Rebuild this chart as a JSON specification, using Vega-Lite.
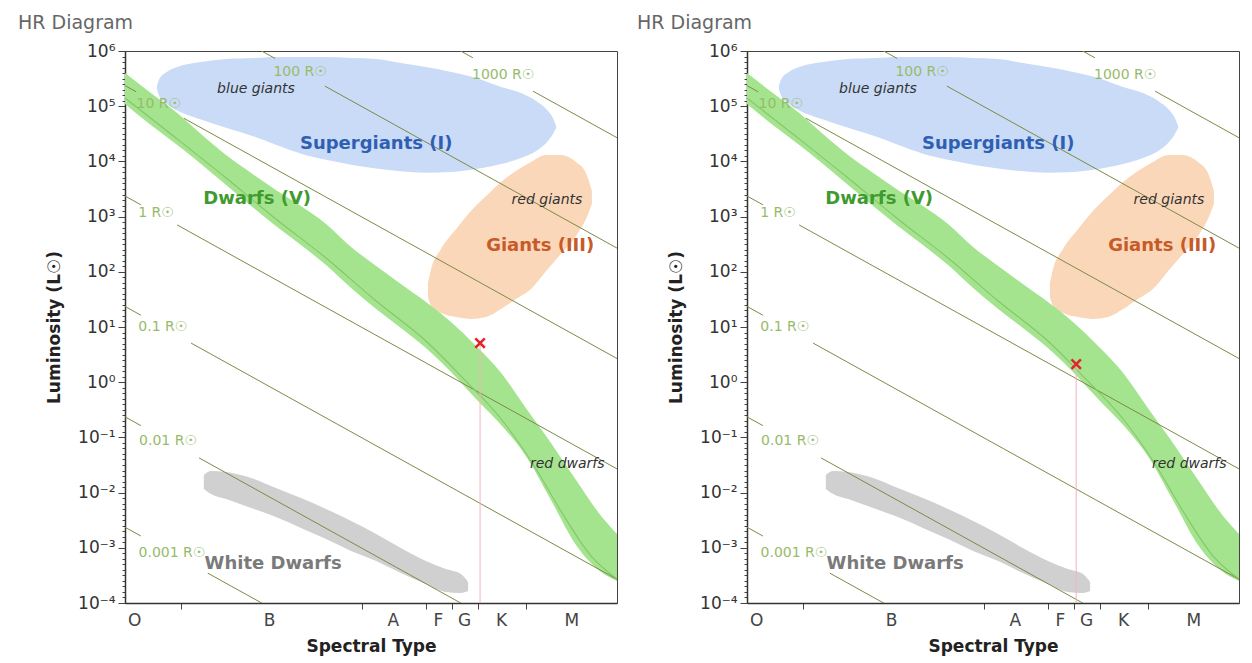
{
  "$schema": "https://vega.github.io/schema/vega-lite/v6.json",
  "background": "white",
  "padding": {"left": 17, "top": 13, "right": 5, "bottom": 5},
  "spacing": 16,
  "config": {
    "font": "DejaVu Sans",
    "view": {"stroke": "#444", "strokeWidth": 1},
    "title": {"fontSize": 19, "fontWeight": "normal", "color": "#666", "font": "DejaVu Sans", "anchor": "start", "frame": "group", "offset": 9}
  },
  "datasets": {
    "ms": [
      {"logT": 4.605, "logL": 5.601, "logL2": 5.040},
      {"logT": 4.540, "logL": 5.239, "logL2": 4.659},
      {"logT": 4.477, "logL": 4.895, "logL2": 4.315},
      {"logT": 4.414, "logL": 4.496, "logL2": 3.953},
      {"logT": 4.351, "logL": 4.116, "logL2": 3.572},
      {"logT": 4.288, "logL": 3.790, "logL2": 3.192},
      {"logT": 4.226, "logL": 3.482, "logL2": 2.830},
      {"logT": 4.163, "logL": 3.192, "logL2": 2.486},
      {"logT": 4.100, "logL": 2.866, "logL2": 2.123},
      {"logT": 4.037, "logL": 2.449, "logL2": 1.706},
      {"logT": 3.974, "logL": 2.106, "logL2": 1.326},
      {"logT": 3.912, "logL": 1.779, "logL2": 0.982},
      {"logT": 3.849, "logL": 1.453, "logL2": 0.620},
      {"logT": 3.786, "logL": 1.091, "logL2": 0.185},
      {"logT": 3.723, "logL": 0.656, "logL2": -0.304},
      {"logT": 3.660, "logL": 0.167, "logL2": -0.775},
      {"logT": 3.598, "logL": -0.467, "logL2": -1.337},
      {"logT": 3.535, "logL": -1.101, "logL2": -2.134},
      {"logT": 3.472, "logL": -1.772, "logL2": -2.949},
      {"logT": 3.409, "logL": -2.424, "logL2": -3.438},
      {"logT": 3.369, "logL": -2.750, "logL2": -3.601}
    ],
    "zams": [
      {"logT": 4.605, "logL": 5.149},
      {"logT": 4.477, "logL": 4.424},
      {"logT": 4.351, "logL": 3.699},
      {"logT": 4.226, "logL": 2.957},
      {"logT": 4.100, "logL": 2.250},
      {"logT": 3.974, "logL": 1.471},
      {"logT": 3.849, "logL": 0.746},
      {"logT": 3.761, "logL": 0.112},
      {"logT": 3.660, "logL": -0.667},
      {"logT": 3.577, "logL": -1.518},
      {"logT": 3.510, "logL": -2.333},
      {"logT": 3.434, "logL": -3.149},
      {"logT": 3.369, "logL": -3.565}
    ],
    "sg": [
      {"logT": 4.525, "logL": 5.366, "logL2": 5.312},
      {"logT": 4.518, "logL": 5.500, "logL2": 5.170},
      {"logT": 4.500, "logL": 5.620, "logL2": 5.040},
      {"logT": 4.470, "logL": 5.720, "logL2": 4.910},
      {"logT": 4.414, "logL": 5.801, "logL2": 4.760},
      {"logT": 4.351, "logL": 5.855, "logL2": 4.610},
      {"logT": 4.281, "logL": 5.873, "logL2": 4.450},
      {"logT": 4.226, "logL": 5.891, "logL2": 4.300},
      {"logT": 4.163, "logL": 5.891, "logL2": 4.140},
      {"logT": 4.100, "logL": 5.891, "logL2": 4.030},
      {"logT": 4.037, "logL": 5.873, "logL2": 3.940},
      {"logT": 3.974, "logL": 5.855, "logL2": 3.870},
      {"logT": 3.912, "logL": 5.783, "logL2": 3.820},
      {"logT": 3.849, "logL": 5.710, "logL2": 3.795},
      {"logT": 3.786, "logL": 5.620, "logL2": 3.808},
      {"logT": 3.723, "logL": 5.511, "logL2": 3.862},
      {"logT": 3.660, "logL": 5.348, "logL2": 3.953},
      {"logT": 3.610, "logL": 5.239, "logL2": 4.062},
      {"logT": 3.572, "logL": 5.094, "logL2": 4.188},
      {"logT": 3.547, "logL": 4.949, "logL2": 4.333},
      {"logT": 3.530, "logL": 4.786, "logL2": 4.496},
      {"logT": 3.522, "logL": 4.641, "logL2": 4.605}
    ],
    "gi": [
      {"logT": 3.844, "logL": 1.797, "logL2": 1.543},
      {"logT": 3.836, "logL": 2.051, "logL2": 1.380},
      {"logT": 3.811, "logL": 2.413, "logL2": 1.254},
      {"logT": 3.773, "logL": 2.775, "logL2": 1.181},
      {"logT": 3.736, "logL": 3.101, "logL2": 1.145},
      {"logT": 3.698, "logL": 3.373, "logL2": 1.181},
      {"logT": 3.660, "logL": 3.627, "logL2": 1.326},
      {"logT": 3.623, "logL": 3.826, "logL2": 1.507},
      {"logT": 3.585, "logL": 3.989, "logL2": 1.688},
      {"logT": 3.547, "logL": 4.116, "logL2": 2.014},
      {"logT": 3.510, "logL": 4.116, "logL2": 2.322},
      {"logT": 3.472, "logL": 3.989, "logL2": 2.649},
      {"logT": 3.447, "logL": 3.790, "logL2": 2.957},
      {"logT": 3.432, "logL": 3.464, "logL2": 3.228}
    ],
    "wd": [
      {"logT": 4.407, "logL": -1.681, "logL2": -1.935},
      {"logT": 4.389, "logL": -1.609, "logL2": -2.025},
      {"logT": 4.351, "logL": -1.627, "logL2": -2.116},
      {"logT": 4.288, "logL": -1.736, "logL2": -2.279},
      {"logT": 4.226, "logL": -1.917, "logL2": -2.442},
      {"logT": 4.163, "logL": -2.098, "logL2": -2.641},
      {"logT": 4.100, "logL": -2.297, "logL2": -2.841},
      {"logT": 4.037, "logL": -2.514, "logL2": -3.058},
      {"logT": 3.974, "logL": -2.750, "logL2": -3.239},
      {"logT": 3.912, "logL": -3.004, "logL2": -3.457},
      {"logT": 3.849, "logL": -3.239, "logL2": -3.656},
      {"logT": 3.799, "logL": -3.384, "logL2": -3.801},
      {"logT": 3.761, "logL": -3.475, "logL2": -3.819},
      {"logT": 3.743, "logL": -3.620, "logL2": -3.783}
    ],
    "rlines": [
      {"id": "1000a", "logT": 4.605, "logL": 9.373}, {"id": "1000a", "logT": 3.731, "logL": 5.877},
      {"id": "1000b", "logT": 3.580, "logL": 5.273}, {"id": "1000b", "logT": 3.369, "logL": 4.429},
      {"id": "100a", "logT": 4.605, "logL": 7.373}, {"id": "100a", "logT": 4.228, "logL": 5.865},
      {"id": "100b", "logT": 4.103, "logL": 5.365}, {"id": "100b", "logT": 3.369, "logL": 2.429},
      {"id": "10a", "logT": 4.605, "logL": 5.373}, {"id": "10a", "logT": 4.577, "logL": 5.261},
      {"id": "10b", "logT": 4.457, "logL": 4.781}, {"id": "10b", "logT": 3.369, "logL": 0.429},
      {"id": "1a", "logT": 4.605, "logL": 3.373}, {"id": "1a", "logT": 4.565, "logL": 3.213},
      {"id": "1b", "logT": 4.474, "logL": 2.849}, {"id": "1b", "logT": 3.369, "logL": -1.571},
      {"id": "0.1a", "logT": 4.605, "logL": 1.373}, {"id": "0.1a", "logT": 4.565, "logL": 1.213},
      {"id": "0.1b", "logT": 4.439, "logL": 0.709}, {"id": "0.1b", "logT": 3.369, "logL": -3.571},
      {"id": "0.01a", "logT": 4.605, "logL": -0.627}, {"id": "0.01a", "logT": 4.565, "logL": -0.787},
      {"id": "0.01b", "logT": 4.419, "logL": -1.371}, {"id": "0.01b", "logT": 3.369, "logL": -5.571},
      {"id": "0.001a", "logT": 4.605, "logL": -2.627}, {"id": "0.001a", "logT": 4.565, "logL": -2.787},
      {"id": "0.001b", "logT": 4.397, "logL": -3.459}, {"id": "0.001b", "logT": 3.369, "logL": -7.571}
    ],
    "rlabels": [
      {"name": "10 R☉", "logT": 4.520, "logL": 5.033},
      {"name": "1 R☉", "logT": 4.527, "logL": 3.061},
      {"name": "0.1 R☉", "logT": 4.510, "logL": 0.993},
      {"name": "0.01 R☉", "logT": 4.497, "logL": -1.059},
      {"name": "0.001 R☉", "logT": 4.487, "logL": -3.099},
      {"name": "100 R☉", "logT": 4.165, "logL": 5.613},
      {"name": "1000 R☉", "logT": 3.655, "logL": 5.573}
    ],
    "types": [
      {"name": "blue giants", "logT": 4.276, "logL": 5.312},
      {"name": "red giants", "logT": 3.545, "logL": 3.301},
      {"name": "red dwarfs", "logT": 3.494, "logL": -1.482}
    ],
    "classes": [
      {"name": "Supergiants (I)", "logT": 3.974, "logL": 4.315},
      {"name": "Giants (III)", "logT": 3.562, "logL": 2.467},
      {"name": "Dwarfs (V)", "logT": 4.273, "logL": 3.319},
      {"name": "White Dwarfs", "logT": 4.233, "logL": -3.293}
    ],
    "star": [
      {"panel": "A", "logT": 3.713, "logL": 0.710},
      {"panel": "B", "logT": 3.778, "logL": 0.327}
    ]
  },
  "hconcat": [
    {
      "width": 492,
      "height": 552,
      "title": {"text": "HR Diagram", "dx": -107},
      "encoding": {
        "x": {"field": "logT", "type": "quantitative",
          "scale": {"domain": [3.369, 4.605], "reverse": true, "nice": false, "zero": false},
          "axis": {"title": "Spectral Type", "grid": false, "labelFlush": false, "labelOverlap": false,
            "values": [4.582, 4.464, 4.243, 4.010, 3.932, 3.849, 3.819, 3.783, 3.753, 3.718, 3.66, 3.598, 3.484],
            "labelExpr": "datum.value == 4.582 ? 'O' : datum.value == 4.243 ? 'B' : datum.value == 3.932 ? 'A' : datum.value == 3.819 ? 'F' : datum.value == 3.753 ? 'G' : datum.value == 3.66 ? 'K' : datum.value == 3.484 ? 'M' : ''",
            "tickOpacity": {"condition": {"test": "indexof([4.464, 4.01, 3.849, 3.783, 3.718, 3.598], datum.value) >= 0", "value": 1}, "value": 0},
            "tickSize": 6, "tickColor": "#444", "domainColor": "#333", "domainWidth": 1.5,
            "labelFontSize": 17, "labelColor": "#444", "labelPadding": 3,
            "titleFontSize": 17, "titleFontWeight": "bold", "titleColor": "#222", "titlePadding": 10}
        },
        "y": {"field": "logL", "type": "quantitative",
          "scale": {"domain": [-4, 6], "nice": false, "zero": false},
          "axis": {"title": "Luminosity (L☉)", "grid": false, "labelFlush": false, "labelOverlap": false,
            "values": [-4,-3.9,-3.8,-3.7,-3.6,-3.5,-3.4,-3.3,-3.2,-3.1,-3,-2.9,-2.8,-2.7,-2.6,-2.5,-2.4,-2.3,-2.2,-2.1,-2,-1.9,-1.8,-1.7,-1.6,-1.5,-1.4,-1.3,-1.2,-1.1,-1,-0.9,-0.8,-0.7,-0.6,-0.5,-0.4,-0.3,-0.2,-0.1,0,0.1,0.2,0.3,0.4,0.5,0.6,0.7,0.8,0.9,1,1.1,1.2,1.3,1.4,1.5,1.6,1.7,1.8,1.9,2,2.1,2.2,2.3,2.4,2.5,2.6,2.7,2.8,2.9,3,3.1,3.2,3.3,3.4,3.5,3.6,3.7,3.8,3.9,4,4.1,4.2,4.3,4.4,4.5,4.6,4.7,4.8,4.9,5,5.1,5.2,5.3,5.4,5.5,5.6,5.7,5.8,5.9,6],
            "labelExpr": "abs(datum.value - round(datum.value)) < 0.01 ? ['10⁻⁴','10⁻³','10⁻²','10⁻¹','10⁰','10¹','10²','10³','10⁴','10⁵','10⁶'][round(datum.value) + 4] : ''",
            "tickSize": {"condition": {"test": "abs(datum.value - round(datum.value)) < 0.01", "value": 7}, "value": 3},
            "tickColor": "#444", "domainColor": "#333", "domainWidth": 1.5,
            "labelFontSize": 17, "labelColor": "#333", "labelPadding": 3,
            "titleFontSize": 17, "titleFontWeight": "bold", "titleColor": "#222", "titlePadding": 14}
        }
      },
      "layer": [
        {"data": {"name": "sg"}, "mark": {"type": "area", "color": "#c9dbf6", "opacity": 1, "interpolate": "monotone"}, "encoding": {"y2": {"field": "logL2"}}},
        {"data": {"name": "gi"}, "mark": {"type": "area", "color": "#fbd7ba", "opacity": 1, "interpolate": "monotone"}, "encoding": {"y2": {"field": "logL2"}}},
        {"data": {"name": "ms"}, "mark": {"type": "area", "color": "#a4e48e", "opacity": 1, "interpolate": "monotone"}, "encoding": {"y2": {"field": "logL2"}}},
        {"data": {"name": "wd"}, "mark": {"type": "area", "color": "#d0d0d0", "opacity": 1, "interpolate": "monotone"}, "encoding": {"y2": {"field": "logL2"}}},
        {"data": {"name": "rlines"}, "mark": {"type": "line", "color": "#7d8a45", "strokeWidth": 1, "clip": true}, "encoding": {"detail": {"field": "id"}}},
        {"data": {"name": "zams"}, "mark": {"type": "line", "color": "#86c56a", "strokeWidth": 1.1, "interpolate": "monotone"}, "encoding": {}},
        {"data": {"name": "rlabels"}, "mark": {"type": "text", "fontSize": 14, "color": "#97bb6a"}, "encoding": {"text": {"field": "name"}}},
        {"data": {"name": "types"}, "mark": {"type": "text", "fontSize": 14, "fontStyle": "italic", "color": "#333"}, "encoding": {"text": {"field": "name"}}},
        {"data": {"name": "classes"}, "mark": {"type": "text", "fontSize": 18, "fontWeight": "bold"}, "encoding": {"text": {"field": "name"},
          "color": {"field": "name", "type": "nominal", "legend": null, "scale": {"domain": ["Supergiants (I)", "Giants (III)", "Dwarfs (V)", "White Dwarfs"], "range": ["#2f5fb3", "#c65a28", "#3f9a30", "#7a7a7a"]}}}},
        {"data": {"name": "star"}, "transform": [{"filter": "datum.panel == 'A'"}], "mark": {"type": "rule", "color": "#f2b3bd", "strokeWidth": 1}, "encoding": {"y2": {"datum": -4}}},
        {"data": {"name": "star"}, "transform": [{"filter": "datum.panel == 'A'"}], "mark": {"type": "point", "shape": "M-1,-1L1,1M1,-1L-1,1", "filled": false, "size": 90, "strokeWidth": 2.5, "color": "#e0262c", "opacity": 1}, "encoding": {}}
      ]
    },
    {
      "width": 492,
      "height": 552,
      "title": {"text": "HR Diagram", "dx": -110},
      "encoding": {
        "x": {"field": "logT", "type": "quantitative",
          "scale": {"domain": [3.369, 4.605], "reverse": true, "nice": false, "zero": false},
          "axis": {"title": "Spectral Type", "grid": false, "labelFlush": false, "labelOverlap": false,
            "values": [4.582, 4.464, 4.243, 4.010, 3.932, 3.849, 3.819, 3.783, 3.753, 3.718, 3.66, 3.598, 3.484],
            "labelExpr": "datum.value == 4.582 ? 'O' : datum.value == 4.243 ? 'B' : datum.value == 3.932 ? 'A' : datum.value == 3.819 ? 'F' : datum.value == 3.753 ? 'G' : datum.value == 3.66 ? 'K' : datum.value == 3.484 ? 'M' : ''",
            "tickOpacity": {"condition": {"test": "indexof([4.464, 4.01, 3.849, 3.783, 3.718, 3.598], datum.value) >= 0", "value": 1}, "value": 0},
            "tickSize": 6, "tickColor": "#444", "domainColor": "#333", "domainWidth": 1.5,
            "labelFontSize": 17, "labelColor": "#444", "labelPadding": 3,
            "titleFontSize": 17, "titleFontWeight": "bold", "titleColor": "#222", "titlePadding": 10}
        },
        "y": {"field": "logL", "type": "quantitative",
          "scale": {"domain": [-4, 6], "nice": false, "zero": false},
          "axis": {"title": "Luminosity (L☉)", "grid": false, "labelFlush": false, "labelOverlap": false,
            "values": [-4,-3.9,-3.8,-3.7,-3.6,-3.5,-3.4,-3.3,-3.2,-3.1,-3,-2.9,-2.8,-2.7,-2.6,-2.5,-2.4,-2.3,-2.2,-2.1,-2,-1.9,-1.8,-1.7,-1.6,-1.5,-1.4,-1.3,-1.2,-1.1,-1,-0.9,-0.8,-0.7,-0.6,-0.5,-0.4,-0.3,-0.2,-0.1,0,0.1,0.2,0.3,0.4,0.5,0.6,0.7,0.8,0.9,1,1.1,1.2,1.3,1.4,1.5,1.6,1.7,1.8,1.9,2,2.1,2.2,2.3,2.4,2.5,2.6,2.7,2.8,2.9,3,3.1,3.2,3.3,3.4,3.5,3.6,3.7,3.8,3.9,4,4.1,4.2,4.3,4.4,4.5,4.6,4.7,4.8,4.9,5,5.1,5.2,5.3,5.4,5.5,5.6,5.7,5.8,5.9,6],
            "labelExpr": "abs(datum.value - round(datum.value)) < 0.01 ? ['10⁻⁴','10⁻³','10⁻²','10⁻¹','10⁰','10¹','10²','10³','10⁴','10⁵','10⁶'][round(datum.value) + 4] : ''",
            "tickSize": {"condition": {"test": "abs(datum.value - round(datum.value)) < 0.01", "value": 7}, "value": 3},
            "tickColor": "#444", "domainColor": "#333", "domainWidth": 1.5,
            "labelFontSize": 17, "labelColor": "#333", "labelPadding": 3,
            "titleFontSize": 17, "titleFontWeight": "bold", "titleColor": "#222", "titlePadding": 14}
        }
      },
      "layer": [
        {"data": {"name": "sg"}, "mark": {"type": "area", "color": "#c9dbf6", "opacity": 1, "interpolate": "monotone"}, "encoding": {"y2": {"field": "logL2"}}},
        {"data": {"name": "gi"}, "mark": {"type": "area", "color": "#fbd7ba", "opacity": 1, "interpolate": "monotone"}, "encoding": {"y2": {"field": "logL2"}}},
        {"data": {"name": "ms"}, "mark": {"type": "area", "color": "#a4e48e", "opacity": 1, "interpolate": "monotone"}, "encoding": {"y2": {"field": "logL2"}}},
        {"data": {"name": "wd"}, "mark": {"type": "area", "color": "#d0d0d0", "opacity": 1, "interpolate": "monotone"}, "encoding": {"y2": {"field": "logL2"}}},
        {"data": {"name": "rlines"}, "mark": {"type": "line", "color": "#7d8a45", "strokeWidth": 1, "clip": true}, "encoding": {"detail": {"field": "id"}}},
        {"data": {"name": "zams"}, "mark": {"type": "line", "color": "#86c56a", "strokeWidth": 1.1, "interpolate": "monotone"}, "encoding": {}},
        {"data": {"name": "rlabels"}, "mark": {"type": "text", "fontSize": 14, "color": "#97bb6a"}, "encoding": {"text": {"field": "name"}}},
        {"data": {"name": "types"}, "mark": {"type": "text", "fontSize": 14, "fontStyle": "italic", "color": "#333"}, "encoding": {"text": {"field": "name"}}},
        {"data": {"name": "classes"}, "mark": {"type": "text", "fontSize": 18, "fontWeight": "bold"}, "encoding": {"text": {"field": "name"},
          "color": {"field": "name", "type": "nominal", "legend": null, "scale": {"domain": ["Supergiants (I)", "Giants (III)", "Dwarfs (V)", "White Dwarfs"], "range": ["#2f5fb3", "#c65a28", "#3f9a30", "#7a7a7a"]}}}},
        {"data": {"name": "star"}, "transform": [{"filter": "datum.panel == 'B'"}], "mark": {"type": "rule", "color": "#f2b3bd", "strokeWidth": 1}, "encoding": {"y2": {"datum": -4}}},
        {"data": {"name": "star"}, "transform": [{"filter": "datum.panel == 'B'"}], "mark": {"type": "point", "shape": "M-1,-1L1,1M1,-1L-1,1", "filled": false, "size": 90, "strokeWidth": 2.5, "color": "#e0262c", "opacity": 1}, "encoding": {}}
      ]
    }
  ]
}
